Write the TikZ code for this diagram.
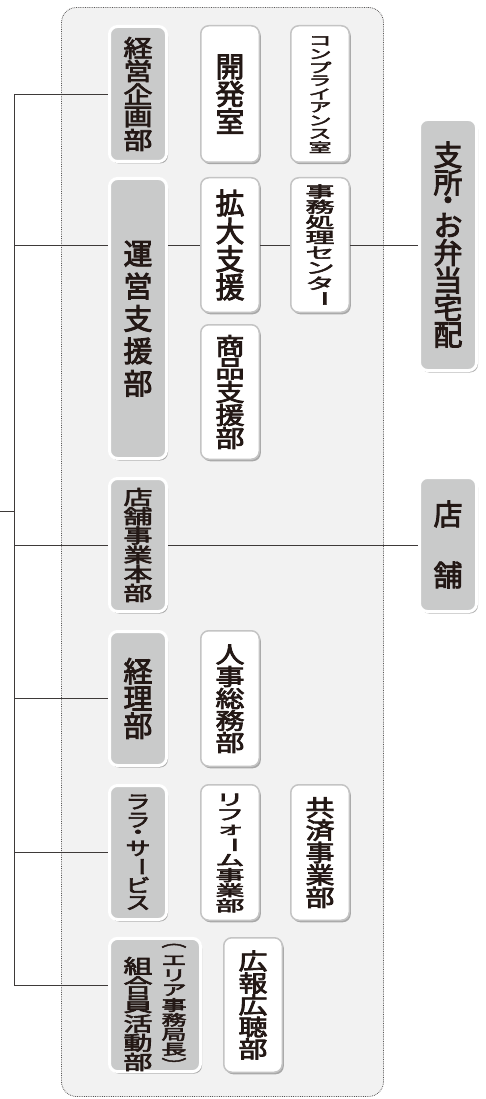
\documentclass[tikz,border=0pt]{standalone}
\usepackage{fontspec}
\usepackage{graphicx}
\usetikzlibrary{shadows}
\newfontfamily\jp{Noto Sans CJK JP}[RawFeature={embolden=3}]
\definecolor{boxgray}{HTML}{C9CACA}
\definecolor{bggray}{HTML}{F2F2F2}
\definecolor{ink}{HTML}{231815}
\definecolor{ring}{HTML}{C4C4C4}
\definecolor{linec}{HTML}{3E3A39}
\definecolor{framec}{HTML}{595757}
\newcommand\LV{\rotatebox[origin=c]{-90}{ー}}
\ExplSyntaxOn
\tl_new:N \l_vt_tl
\dim_new:N \l_vt_dim
\NewDocumentCommand\vtxt{O{29}mm}
  {
    \group_begin:
    \fontsize{#1pt}{#1pt}\selectfont
    \tl_set:Nx \l_vt_tl { \fp_eval:n { min(1, (#2 - 1.5) / (0.9 * #1)) } }
    \vbox:n
      {
        \offinterlineskip
        \tl_map_inline:nn {#3}
          {
            \tl_if_eq:nnTF {##1} {・}
              { \dim_set:Nn \l_vt_dim { #2pt * 55 / 100 } }
              { \dim_set:Nn \l_vt_dim { #2pt } }
            \hbox_to_wd:nn {#1pt}
              {
                \hss
                \vbox_to_ht:nn {\l_vt_dim}
                  { \vss \hbox:n { \scalebox{1}[\l_vt_tl]{##1} } \vss }
                \hss
              }
          }
      }
    \group_end:
  }
\ExplSyntaxOff
\begin{document}
\begin{tikzpicture}[x=1pt,y=-1pt,
  every node/.style={inner sep=0pt},
  txt/.style={font=\jp, text=ink},
  gbox/.style={txt, draw=white, line width=3pt, fill=boxgray, rounded corners=8pt,
    drop shadow={shadow xshift=1.5pt, shadow yshift=-2pt, opacity=.3, fill=black}},
  wbox/.style={txt, draw=ring, line width=1.5pt, fill=white, rounded corners=8pt,
    drop shadow={shadow xshift=1.5pt, shadow yshift=-2pt, opacity=.3, fill=black}},
  conn/.style={draw=linec, line width=0.9pt},
  frame/.style={draw=framec, densely dotted, line width=0.8pt, fill=bggray, rounded corners=15pt}
]
\useasboundingbox (0,0) rectangle (485,1099);
\node[frame, minimum width=322, minimum height=1089] (frame) at (222.5,552) {};

\node[gbox, minimum width=57, minimum height=135] (kikaku) at (138,94) {\vtxt{23}{経営企画部}};
\node[wbox, minimum width=58.5, minimum height=136.5] (kaihatsu) at (230,94) {\vtxt{27}{開発室}};
\node[wbox, minimum width=58.5, minimum height=136.5] (comp) at (320,94) {\vtxt[23]{13.3}{コンプライアンス室}};
\node[gbox, minimum width=57, minimum height=280] (unei) at (138,318.5) {\vtxt{32.4}{運営支援部}};
\node[wbox, minimum width=58.5, minimum height=134.5] (kakudai) at (230,245) {\vtxt{28}{拡大支援}};
\node[wbox, minimum width=58.5, minimum height=134.5] (jimu) at (320,245) {\vtxt{15.3}{事務処理センタ{\LV}}};
\node[wbox, minimum width=58.5, minimum height=134.5] (shohin) at (230,392) {\vtxt{23}{商品支援部}};
\node[gbox, minimum width=57, minimum height=251] (shisho) at (448,245) {\vtxt{27.5}{支所・お弁当宅配}};
\node[gbox, minimum width=57, minimum height=133] (tenpoH) at (138,545) {\vtxt{19.2}{店舗事業本部}};
\node[gbox, minimum width=57, minimum height=134] (tenpoR) at (448,544.5) {\vtxt{61}{店舗}};
\node[gbox, minimum width=57, minimum height=134] (keiri) at (138,698.5) {\vtxt{27.3}{経理部}};
\node[wbox, minimum width=58.5, minimum height=135.5] (jinji) at (230,698.5) {\vtxt{22}{人事総務部}};
\node[gbox, minimum width=57, minimum height=134] (lala) at (138,852.5) {\vtxt[25]{18.2}{ララ・サ{\LV}ビス}};
\node[wbox, minimum width=58.5, minimum height=135.5] (reform) at (230,852.5) {\vtxt{15.1}{リフォ{\LV}ム事業部}};
\node[wbox, minimum width=58.5, minimum height=135.5] (kyosai) at (320,852.5) {\vtxt{22.4}{共済事業部}};
\node[gbox, minimum width=91, minimum height=133] (kumiai) at (155,1005) {\hbox{\vtxt{19.2}{組合員活動部}\hspace{9pt}\vtxt[25]{14.8}{︵エリア事務局長︶}}};
\node[wbox, minimum width=58.5, minimum height=134.5] (koho) at (253,1005) {\vtxt{22}{広報広聴部}};

\coordinate (trunkTop) at (14,95);
\coordinate (trunkBot) at (14,985);
\coordinate (stub) at (0,511);
\draw[conn] (kikaku.west -| trunkTop) -- (trunkBot);
\draw[conn] (stub) -- (stub -| trunkTop);
\draw[conn] (kikaku.west -| trunkTop) -- (kikaku.west);
\draw[conn] (trunkTop |- kakudai.west) -- (unei.west |- kakudai.west);
\draw[conn] (unei.east |- kakudai.west) -- (kakudai.west);
\draw[conn] (kakudai.east) -- (jimu.west);
\draw[conn] (jimu.east) -- (shisho.west |- jimu.east);
\draw[conn] (trunkTop |- tenpoH.west) -- (tenpoH.west);
\draw[conn] (tenpoH.east) -- (tenpoR.west |- tenpoH.east);
\draw[conn] (trunkTop |- keiri.west) -- (keiri.west);
\draw[conn] (trunkTop |- lala.west) -- (lala.west);
\draw[conn] (trunkBot) -- (trunkBot -| kumiai.west);
\end{tikzpicture}
\end{document}
